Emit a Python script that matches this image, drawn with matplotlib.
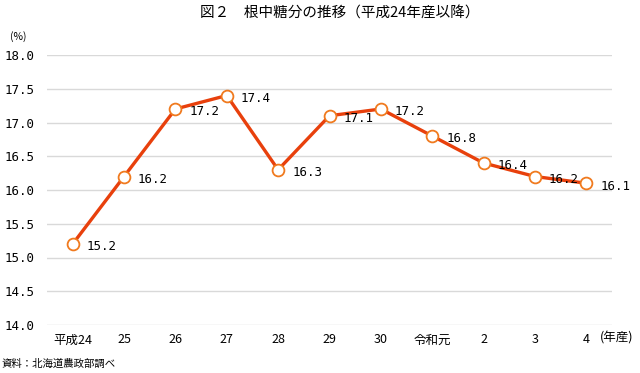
import numpy as np
from matplotlib import pyplot as plt

plt.rcParams['font.family'] = ['Noto Sans CJK JP', 'DejaVu Sans']

years = ['平成24', '25', '26', '27', '28', '29', '30', '令和元', '2', '3', '4']
sugar = [15.2, 16.2, 17.2, 17.4, 16.3, 17.1, 17.2, 16.8, 16.4, 16.2, 16.1]
yticks = [14.0, 14.5, 15.0, 15.5, 16.0, 16.5, 17.0, 17.5, 18.0]

mono = ['DejaVu Sans Mono']

fig = plt.figure(figsize=(6.4, 3.73), dpi=100)
ax = fig.add_axes([47 / 640, 1 - 325 / 373, (612 - 47) / 640, (325 - 55) / 373])

x = np.arange(len(years))
ax.plot(x, sugar, color='#e8400c', lw=2.4, marker='o', ms=8.5,
        mfc='white', mec='#f07a1e', mew=1.3, zorder=3)

for xi, v in zip(x, sugar):
    ax.annotate(f'{v:.1f}', (xi, v), xytext=(10, -2), textcoords='offset points',
                ha='left', va='center', fontsize=9, family=mono)

ax.set_xlim(-0.5, len(years) - 0.5)
ax.set_ylim(14.0, 18.0)
ax.set_yticks(yticks)
ax.set_yticklabels([f'{t:.1f}' for t in yticks], fontsize=9, family=mono)
ax.set_xticks(x)
ax.set_xticklabels(years, fontsize=9)
ax.tick_params(length=0)
ax.tick_params(axis='y', pad=9)
ax.tick_params(axis='x', pad=6)
ax.grid(axis='y', color='#d9d9d9', lw=1)
ax.set_axisbelow(True)
for s in ax.spines.values():
    s.set_visible(False)

fig.text(340 / 640, 1 - 14 / 373, '図２　根中糖分の推移（平成24年産以降）',
         ha='center', va='center', fontsize=10.5)
fig.text(18 / 640, 1 - 37 / 373, '(%)', ha='center', va='center', fontsize=7.5)
fig.text(600 / 640, 1 - 338 / 373, '(年産)', ha='left', va='center', fontsize=9)
fig.text(2 / 640, 1 - 364 / 373, '資料：北海道農政部調べ', ha='left', va='center', fontsize=7.5)

fig.savefig('out.png', dpi=100)
